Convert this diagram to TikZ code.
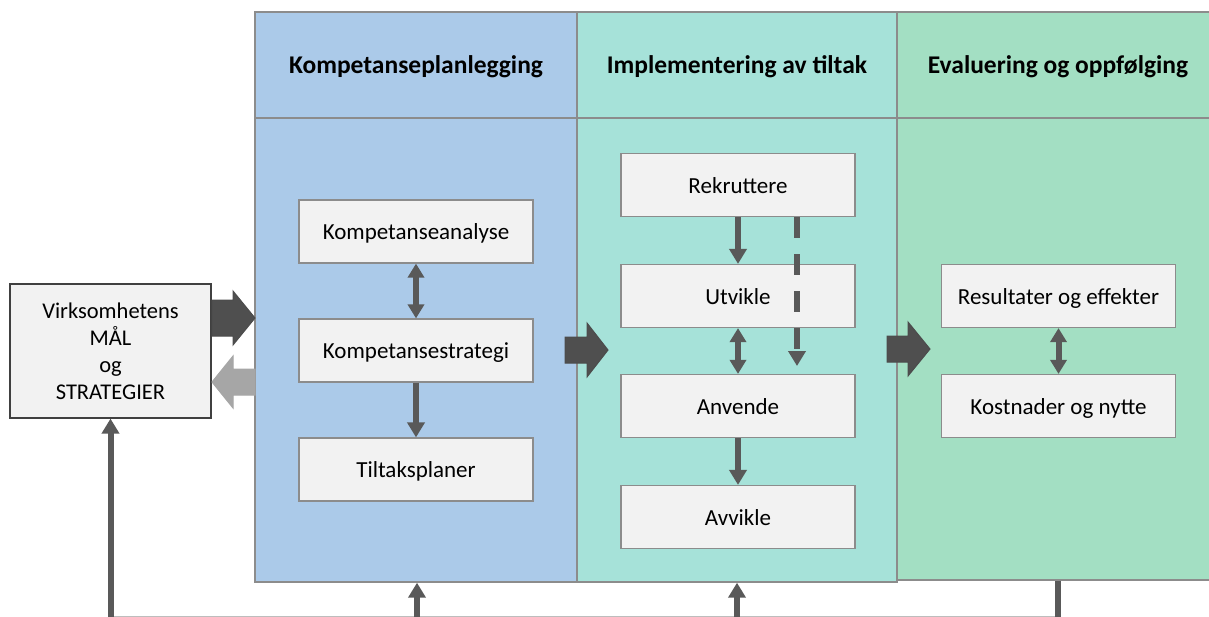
\documentclass[tikz,border=0pt]{standalone}
\usepackage{fontspec}
\setmainfont{Carlito}
\usetikzlibrary{arrows.meta,positioning}
\definecolor{planblue}{HTML}{ABCAE9}
\definecolor{implteal}{HTML}{A6E2D9}
\definecolor{evalgreen}{HTML}{A3DFC3}
\definecolor{boxfill}{HTML}{F2F2F2}
\definecolor{boxline}{HTML}{8C8C8C}
\definecolor{connect}{HTML}{595959}
\definecolor{blockdark}{HTML}{4F4F4F}
\definecolor{blocklight}{HTML}{A6A6A6}
\tikzset{
    panel/.style={draw=boxline, line width=1.4pt, inner sep=0pt},
    paneltitle/.style={font=\fontsize{25.5}{30}\selectfont\bfseries},
    stepbox/.style={draw=boxline, fill=boxfill, line width=1.2pt,
        minimum width=234pt, minimum height=63pt, inner sep=0pt,
        text height=16pt, text depth=0pt,
        font=\fontsize{23}{27}\selectfont},
    goalbox/.style={draw=black!75, fill=boxfill, line width=1.2pt,
        minimum width=201pt, minimum height=134pt, inner sep=0pt, align=center,
        font=\fontsize{22.5}{27}\selectfont},
    conn/.style={draw=connect, line width=6pt},
    single/.style={-{Triangle[length=15pt,width=17pt]}},
    both/.style={{Triangle[length=14pt,width=16pt]}-{Triangle[length=14pt,width=16pt]}},
    bigarrow/.style={fill=#1, draw=black!70, line width=1pt, line join=miter}
}
\begin{document}
\begin{tikzpicture}[x=1pt,y=-1pt]
    \useasboundingbox (0,0) rectangle (1209,616);
    % three phases
    \node[panel, fill=planblue, minimum width=322pt, minimum height=570pt] (plan) at (416,297) {};
    \node[panel, fill=implteal, minimum width=320pt, minimum height=570pt] (impl) at (737,297) {};
    \node[panel, fill=evalgreen, minimum width=330pt, minimum height=568pt] (eval) at (1062,296) {};
    \coordinate (hd) at (0,118);
    \draw[boxline, line width=1.4pt] (plan.west |- hd) -- (eval.east |- hd);
    \node[paneltitle] (tplan) at (416,67) {Kompetanseplanlegging};
    \node[paneltitle] (timpl) at (737,67) {Implementering av tiltak};
    \node[paneltitle] (teval) at (1058,67) {Evaluering og oppfølging};
    % goals
    \node[goalbox] (goal) at (110.5,351) {Virksomhetens\\MÅL\\og\\STRATEGIER};
    % planning
    \node[stepbox] (analyse) at (416,231.5) {Kompetanseanalyse};
    \node[stepbox] (strategi) at (416,350.5) {Kompetansestrategi};
    \node[stepbox] (tiltak) at (416,469.5) {Tiltaksplaner};
    % implementation
    \node[stepbox] (rekrutt) at (738,185) {Rekruttere};
    \node[stepbox] (utvikle) at (738,296) {Utvikle};
    \node[stepbox] (anvende) at (738,406) {Anvende};
    \node[stepbox] (avvikle) at (738,517) {Avvikle};
    % evaluation
    \node[stepbox] (resultat) at (1058.5,296) {Resultater og effekter};
    \node[stepbox] (kostnad) at (1058.5,406) {Kostnader og nytte};
    % connectors
    \draw[conn, both] (analyse) -- (strategi);
    \draw[conn, single] (strategi) -- (tiltak);
    \draw[conn, single] (rekrutt) -- (utvikle);
    \draw[conn, both] (utvikle) -- (anvende);
    \draw[conn, single] (anvende) -- (avvikle);
    \draw[conn, both] (resultat) -- (kostnad);
    \coordinate (dashend) at (797,366);
    \draw[conn, single, dash pattern=on 21pt off 16pt] (rekrutt.south -| dashend) -- (dashend);
    % feedback from below
    \coordinate (b0) at (110.5,617);
    \coordinate (b1) at (417,617);
    \coordinate (b2) at (737,617);
    \coordinate (b3) at (1058,617);
    \draw[conn, line width=2pt, draw=connect!40] (b0) -- (b3);
    \draw[conn, single] (b0) -- (goal.south);
    \draw[conn, single] (b1) -- (b1 |- plan.south);
    \draw[conn, single] (b2) -- (b2 |- impl.south);
    \draw[conn] (b3 |- eval.south) -- (b3);
    % block arrows
    \filldraw[bigarrow=blockdark] (212,300) -- (233,300) -- (233,291) -- (255,318) -- (233,345) -- (233,336) -- (212,336) -- cycle;
    \filldraw[bigarrow=blocklight, draw=blocklight] (255,369) -- (233,369) -- (233,356) -- (212,382) -- (233,408) -- (233,395) -- (255,395) -- cycle;
    \filldraw[bigarrow=blockdark] (565,337) -- (587,337) -- (587,323) -- (608,350) -- (587,377) -- (587,363) -- (565,363) -- cycle;
    \filldraw[bigarrow=blockdark] (887,336) -- (908,336) -- (908,322) -- (930,349) -- (908,376) -- (908,362) -- (887,362) -- cycle;
\end{tikzpicture}
\end{document}
